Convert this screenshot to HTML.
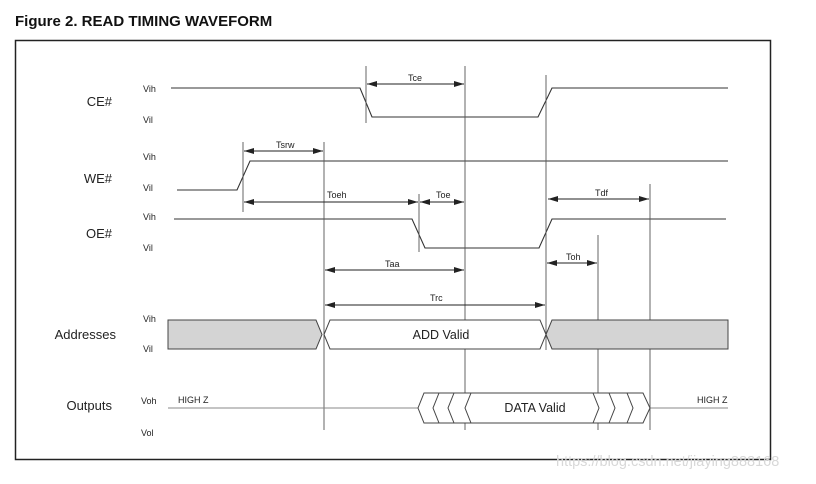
<!DOCTYPE html>
<html><head><style>
body{margin:0;background:#fff;}
svg text{font-family:"Liberation Sans",Arial,sans-serif;fill:#222;}
</style></head><body>
<svg width="816" height="479" viewBox="0 0 816 479" xmlns="http://www.w3.org/2000/svg">
<defs>
<marker id="a" viewBox="0 0 10 6" refX="10" refY="3" markerWidth="10" markerHeight="6" orient="auto-start-reverse" markerUnits="userSpaceOnUse"><path d="M0,0L10,3L0,6z" fill="#222"/></marker>
</defs>
<text x="15" y="26" font-size="15" font-weight="bold" style="fill:#111">Figure 2. READ TIMING WAVEFORM</text>
<rect x="15.5" y="40.5" width="755" height="419" fill="none" stroke="#222" stroke-width="1.5"/>
<g font-size="13">
<text x="112" y="106" text-anchor="end">CE#</text>
<text x="112" y="183" text-anchor="end">WE#</text>
<text x="112" y="238" text-anchor="end">OE#</text>
<text x="116" y="339" text-anchor="end">Addresses</text>
<text x="112" y="410" text-anchor="end">Outputs</text>
</g>
<g font-size="9">
<text x="143" y="92">Vih</text><text x="143" y="123">Vil</text>
<text x="143" y="160">Vih</text><text x="143" y="191">Vil</text>
<text x="143" y="220">Vih</text><text x="143" y="251">Vil</text>
<text x="143" y="322">Vih</text><text x="143" y="352">Vil</text>
<text x="141" y="404">Voh</text><text x="141" y="436">Vol</text>
<text x="178" y="403">HIGH Z</text><text x="697" y="403">HIGH Z</text>
<text x="408" y="81">Tce</text><text x="276" y="148">Tsrw</text>
<text x="327" y="198">Toeh</text><text x="436" y="198">Toe</text>
<text x="595" y="196">Tdf</text><text x="566" y="260">Toh</text>
<text x="385" y="267">Taa</text><text x="430" y="301">Trc</text>
</g>
<g fill="none" stroke="#333" stroke-width="1.1">
<polyline points="171,88 360,88 372,117 538,117 552,88 728,88"/>
<polyline points="177,190 237,190 250,161 728,161"/>
<polyline points="174,219 412,219 425,248 539,248 552,219 726,219"/>
</g>
<g stroke="#555" stroke-width="0.9">
<line x1="366" y1="66" x2="366" y2="123"/>
<line x1="465" y1="66" x2="465" y2="430"/>
<line x1="546" y1="75" x2="546" y2="350"/>
<line x1="243" y1="142" x2="243" y2="212"/>
<line x1="324" y1="142" x2="324" y2="430"/>
<line x1="419" y1="194" x2="419" y2="252"/>
<line x1="650" y1="184" x2="650" y2="430"/>
<line x1="598" y1="235" x2="598" y2="430"/>
</g>
<g stroke="#222" stroke-width="0.9" marker-start="url(#a)" marker-end="url(#a)">
<line x1="367" y1="84" x2="464" y2="84"/>
<line x1="244" y1="151" x2="323" y2="151"/>
<line x1="244" y1="202" x2="418" y2="202"/>
<line x1="420" y1="202" x2="464" y2="202"/>
<line x1="548" y1="199" x2="649" y2="199"/>
<line x1="547" y1="263" x2="597" y2="263"/>
<line x1="325" y1="270" x2="464" y2="270"/>
<line x1="325" y1="305" x2="545" y2="305"/>
</g>
<g stroke="#444" stroke-width="1">
<path d="M168,320 L316,320 L322,334.5 L316,349 L168,349 Z" fill="#d4d4d4"/>
<path d="M728,320 L552,320 L546,334.5 L552,349 L728,349 Z" fill="#d4d4d4"/>
<path d="M330,320 L540,320 L546,334.5 L540,349 L330,349 L324,334.5 Z" fill="#fff"/>
<line x1="168" y1="408" x2="418" y2="408" stroke="#888"/>
<line x1="650" y1="408" x2="728" y2="408" stroke="#888"/>
<path d="M424,393 L643,393 L650,408 L643,423 L424,423 L418,408 Z" fill="#fff"/>
<path d="M439,393 L433,408 L439,423 M454,393 L448,408 L454,423 M471,393 L465,408 L471,423 M593,393 L599,408 L593,423 M609,393 L615,408 L609,423 M627,393 L633,408 L627,423" fill="none"/>
</g>
<text x="441" y="339" font-size="12.5" text-anchor="middle">ADD Valid</text>
<text x="535" y="412" font-size="12.5" text-anchor="middle">DATA Valid</text>
<text x="556" y="466" font-size="14.5" style="fill:#d8d8d8">https://blog.csdn.net/jiaying888168</text>
</svg>
</body></html>
